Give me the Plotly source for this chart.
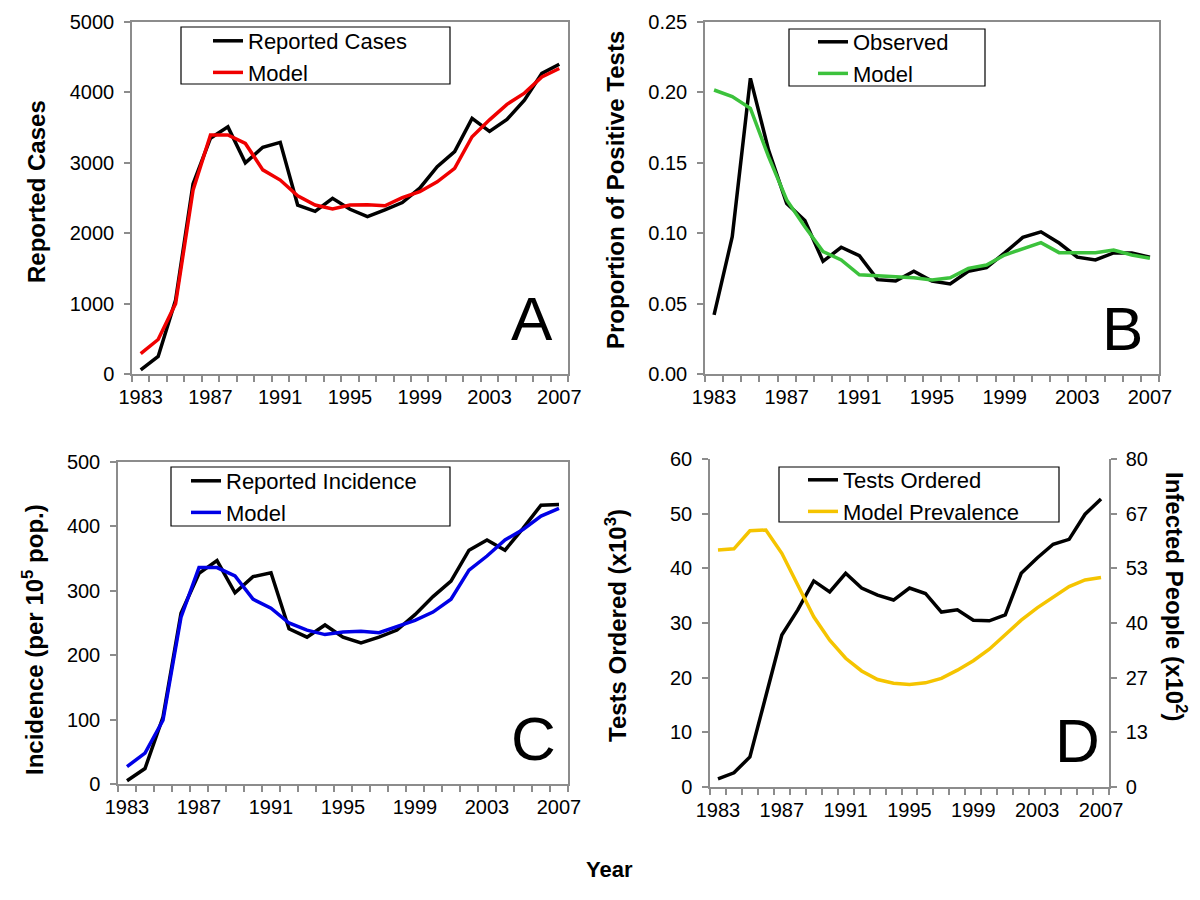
import plotly.graph_objects as go

years = list(range(1983, 2008))
year_labels = [1983, 1987, 1991, 1995, 1999, 2003, 2007]

a_reported = [60, 250, 1050, 2700, 3350, 3510, 3000, 3220, 3290, 2400, 2310, 2495, 2340,
              2235, 2330, 2435, 2640, 2945, 3160, 3630, 3445, 3615, 3890, 4270, 4400]
a_model = [290, 490, 1000, 2610, 3395, 3395, 3275, 2900, 2755, 2530, 2400, 2345, 2400,
           2405, 2390, 2505, 2590, 2730, 2920, 3370, 3610, 3830, 3990, 4220, 4340]

b_observed = [0.042, 0.0975, 0.210, 0.159, 0.121, 0.109, 0.080, 0.090, 0.084, 0.067, 0.066,
              0.073, 0.066, 0.064, 0.073, 0.0755, 0.086, 0.097, 0.101, 0.093, 0.083, 0.081,
              0.086, 0.086, 0.083]
b_model = [0.2017, 0.197, 0.1887, 0.1544, 0.1236, 0.1046, 0.087, 0.081, 0.0705, 0.0698, 0.069,
           0.0684, 0.0668, 0.0684, 0.075, 0.0774, 0.0845, 0.0892, 0.0933, 0.0862, 0.0862,
           0.0862, 0.0881, 0.0845, 0.0822]

c_reported = [5, 24, 104, 265, 327, 347, 297, 322, 328, 241, 228, 247, 228, 219, 228, 239,
              263, 291, 315, 363, 379, 363, 397, 433, 434]
c_model = [27, 48, 99, 259, 336, 336, 323, 287, 273, 250, 239, 232, 236, 237, 235, 245, 254,
           267, 287, 332, 354, 379, 395, 416, 428]

d_tests = [1.5, 2.6, 5.5, 16.5, 27.8, 32.4, 37.7, 35.7, 39.1, 36.4, 35.1, 34.2, 36.4, 35.4,
           32.0, 32.4, 30.5, 30.4, 31.5, 39.1, 41.9, 44.4, 45.3, 49.9, 52.7]
d_prevalence = [57.8, 58.1, 62.5, 62.7, 57.0, 49.3, 41.5, 35.8, 31.4, 28.3, 26.2, 25.3, 25.0,
                25.4, 26.5, 28.5, 30.8, 33.6, 37.1, 40.7, 43.7, 46.4, 48.9, 50.5, 51.1]

right_tickvals = [0, 80 / 6, 160 / 6, 40, 320 / 6, 400 / 6, 80]
right_ticktext = ["0", "13", "27", "40", "53", "67", "80"]

# page body has an 8px margin: the figure is sized to fit and positions are offset
OFF = 8
W, H = 1200 - 2 * OFF, 900 - 2 * OFF
FONT = "Liberation Sans, Arial, Helvetica, sans-serif"
AXC = "#8c8c8c"
LW = 3.5


def px(x):
    return (x - OFF) / W


def py(y):
    return 1 - (y - OFF) / H


fig = go.Figure()

fig.add_trace(go.Scatter(x=years, y=a_reported, mode="lines", name="Reported Cases",
                         line=dict(color="black", width=LW), xaxis="x", yaxis="y", legend="legend"))
fig.add_trace(go.Scatter(x=years, y=a_model, mode="lines", name="Model",
                         line=dict(color="#f00000", width=LW), xaxis="x", yaxis="y", legend="legend"))

fig.add_trace(go.Scatter(x=years, y=b_observed, mode="lines", name="Observed",
                         line=dict(color="black", width=LW), xaxis="x2", yaxis="y2", legend="legend2"))
fig.add_trace(go.Scatter(x=years, y=b_model, mode="lines", name="Model",
                         line=dict(color="#3cc23c", width=LW), xaxis="x2", yaxis="y2", legend="legend2"))

fig.add_trace(go.Scatter(x=years, y=c_reported, mode="lines", name="Reported Incidence",
                         line=dict(color="black", width=LW), xaxis="x3", yaxis="y3", legend="legend3"))
fig.add_trace(go.Scatter(x=years, y=c_model, mode="lines", name="Model",
                         line=dict(color="#0000e6", width=LW), xaxis="x3", yaxis="y3", legend="legend3"))

fig.add_trace(go.Scatter(x=years, y=d_tests, mode="lines", name="Tests Ordered",
                         line=dict(color="black", width=LW), xaxis="x4", yaxis="y4", legend="legend4"))
fig.add_trace(go.Scatter(x=years, y=d_prevalence, mode="lines", name="Model Prevalence",
                         line=dict(color="#f5c400", width=LW), xaxis="x4", yaxis="y5", legend="legend4"))

tickfont = dict(family=FONT, size=20, color="black")


def xaxis(domain, anchor, mirror=True):
    return dict(domain=domain, anchor=anchor, range=[1982.5, 2007.5], automargin=False,
                tickmode="array", tickvals=year_labels, ticktext=[str(v) for v in year_labels],
                ticks="", showgrid=False, zeroline=False, showline=True, linecolor=AXC,
                linewidth=1.5, mirror=mirror, tickfont=tickfont, ticklabelstandoff=4,
                minor=dict(tick0=1982.5, dtick=1, ticks="outside", ticklen=6,
                           tickcolor=AXC, tickwidth=1.5, showgrid=False))


def yaxis(domain, anchor, rng, dtick, fmt=None, mirror=True):
    d = dict(domain=domain, anchor=anchor, range=rng, dtick=dtick, tick0=0, automargin=False,
             ticks="outside", ticklen=6, tickcolor=AXC, tickwidth=1.5, ticklabelstandoff=6,
             showgrid=False, zeroline=False, showline=True, linecolor=AXC, linewidth=1.5,
             mirror=mirror, tickfont=tickfont)
    if fmt:
        d["tickformat"] = fmt
    return d


yA = [py(374), py(22)]
yC = [py(784), py(462)]
yD = [py(787), py(459)]

legend_common = dict(bgcolor="rgba(0,0,0,0)", borderwidth=0,
                     font=dict(family=FONT, size=22, color="black"),
                     xanchor="left", yanchor="top", itemwidth=30, tracegroupgap=0)

fig.update_layout(
    width=W, height=H,
    margin=dict(l=0, r=0, t=0, b=0, autoexpand=False),
    paper_bgcolor="white", plot_bgcolor="white",
    font=dict(family=FONT, color="black"),
    xaxis=xaxis([px(132), px(568)], "y"),
    yaxis=yaxis(yA, "x", [0, 5000], 1000),
    xaxis2=xaxis([px(705), px(1159)], "y2"),
    yaxis2=yaxis(yA, "x2", [0, 0.25], 0.05, ".2f"),
    xaxis3=xaxis([px(118), px(568)], "y3"),
    yaxis3=yaxis(yC, "x3", [0, 500], 100),
    xaxis4=xaxis([px(710), px(1109)], "y4", mirror=False),
    yaxis4=yaxis(yD, "x4", [0, 60], 10, mirror=False),
    yaxis5=dict(domain=yD, anchor="x4", overlaying="y4", side="right", range=[0, 80],
                automargin=False, ticklabelstandoff=5,
                tickmode="array", tickvals=right_tickvals, ticktext=right_ticktext,
                ticks="outside", ticklen=6, tickcolor=AXC, tickwidth=1.5,
                showgrid=False, zeroline=False, showline=True, linecolor=AXC, linewidth=1.5,
                tickfont=tickfont),
    legend=dict(x=px(208), y=py(20), **legend_common),
    legend2=dict(x=px(813), y=py(21), **legend_common),
    legend3=dict(x=px(186), y=py(460), **legend_common),
    legend4=dict(x=px(803), y=py(459), **legend_common),
    showlegend=True,
)

# legend frames (opaque boxes behind the legend entries)
boxes = [(181, 27, 450, 84), (789, 29, 985, 86), (171, 467, 450, 526), (779, 467, 1059, 522)]
for x0, y0, x1, y1 in boxes:
    fig.add_shape(type="rect", xref="paper", yref="paper", x0=px(x0), x1=px(x1),
                  y0=py(y1), y1=py(y0), fillcolor="white", layer="above",
                  line=dict(color="black", width=1.2))

vt_font = dict(family=FONT, size=24, color="black")
annotations = [
    dict(text="<b>Reported Cases</b>", x=px(36), y=py(192), textangle=-90),
    dict(text="<b>Proportion of Positive Tests</b>", x=px(616), y=py(190), textangle=-90),
    dict(text="<b>Incidence (per 10<sup>5</sup> pop.)</b>", x=px(33), y=py(640), textangle=-90),
    dict(text="<b>Tests Ordered (x10<sup>3</sup>)</b>", x=px(616), y=py(626), textangle=-90),
    dict(text="<b>Infected People (x10<sup>2</sup>)</b>", x=px(1176), y=py(596), textangle=90),
]
for a in annotations:
    fig.add_annotation(xref="paper", yref="paper", showarrow=False, font=vt_font,
                       xanchor="center", yanchor="middle", **a)
fig.add_annotation(text="<b>Year</b>", xref="paper", yref="paper", x=px(609), y=py(869),
                   showarrow=False, xanchor="center", yanchor="middle",
                   font=dict(family=FONT, size=22, color="black"))

letters = [("A", 532, 318), ("B", 1122, 328), ("C", 533, 738), ("D", 1077, 740)]
for t, x, y in letters:
    fig.add_annotation(text=t, xref="paper", yref="paper", x=px(x), y=py(y), showarrow=False,
                       xanchor="center", yanchor="middle",
                       font=dict(family=FONT, size=62, color="black"))

fig.write_html("out.html")
